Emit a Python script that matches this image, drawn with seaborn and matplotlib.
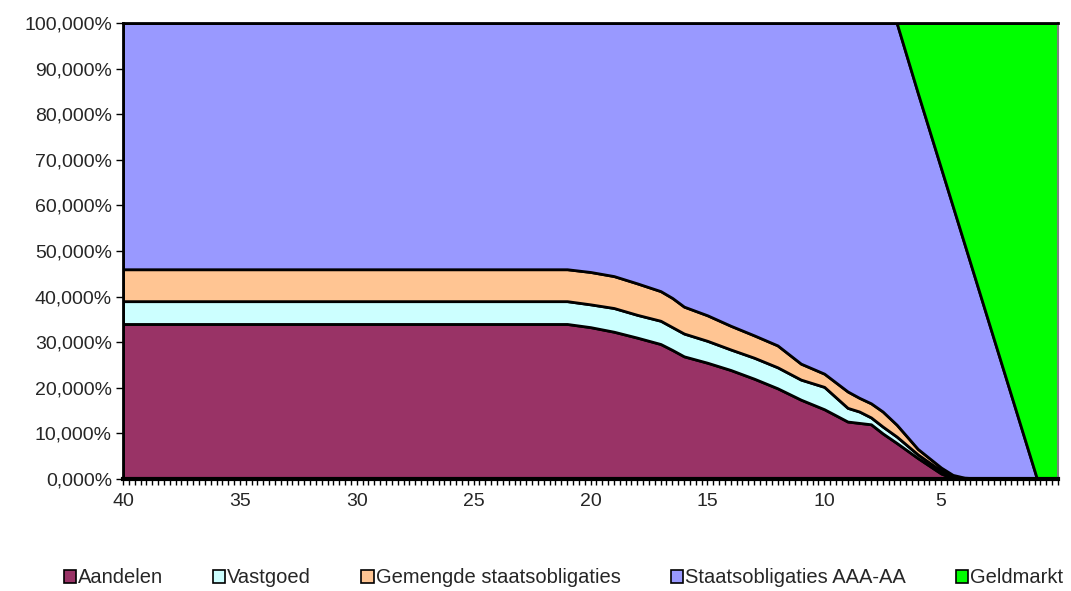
import numpy as np
import matplotlib.pyplot as plt
import matplotlib.ticker as mticker
from matplotlib.patches import Patch
import seaborn as sns

# years to go (x axis runs from 40 down to 0)
years = [40, 21, 20, 19, 18, 17, 16.5, 16, 15, 14, 13, 12, 11, 10, 9, 8.5, 8, 7.5, 6.9,
         6, 5, 4.5, 4, 3, 2, 1, 0.9, 0]

# allocation in %
aandelen = [34, 34, 33.3, 32.3, 31.0, 29.6, 28.3, 26.9, 25.5, 23.9, 22.0, 19.9, 17.4, 15.3,
            12.6, 12.3, 12.0, 10.0, 7.9, 4.6, 1.2, 0.2, 0, 0, 0, 0, 0, 0]
vastgoed = [5, 5, 5.0, 5.2, 5.0, 5.1, 5.0, 5.0, 4.8, 4.5, 4.6, 4.6, 4.4, 4.9,
            3.0, 2.5, 1.5, 1.5, 1.4, 0.8, 0.6, 0.3, 0.1, 0, 0, 0, 0, 0]
gemengd = [7, 7, 7.1, 7.0, 6.9, 6.5, 6.4, 5.9, 5.6, 5.2, 4.9, 4.8, 3.5, 2.9,
           3.6, 3.0, 3.1, 3.3, 2.6, 1.2, 0.7, 0.4, 0.2, 0, 0, 0, 0, 0]
geldmarkt = [0, 0, 0, 0, 0, 0, 0, 0, 0, 0, 0, 0, 0, 0,
             0, 0, 0, 0, 0, 15.3, 31.9, 40.2, 48.5, 65.1, 81.7, 98.3, 100, 100]
staats = [100 - a - v - g - m for a, v, g, m in zip(aandelen, vastgoed, gemengd, geldmarkt)]

labels = ["Aandelen", "Vastgoed", "Gemengde staatsobligaties", "Staatsobligaties AAA-AA", "Geldmarkt"]
colors = ["#993366", "#CCFFFF", "#FFC593", "#9999FF", "#00FF00"]

sns.set_style("white")
plt.rcParams['font.family'] = ['Liberation Sans', 'DejaVu Sans']

fig = plt.figure(figsize=(10.71, 5.91), dpi=100)
ax = fig.add_axes([123 / 1071, 112 / 591, 935 / 1071, 456 / 591])

ax.stackplot(years, aandelen, vastgoed, gemengd, staats, geldmarkt,
             colors=colors, edgecolor="black", linewidth=2)

ax.set_xlim(40, 0)
ax.set_ylim(0, 100)

ax.xaxis.set_major_locator(mticker.FixedLocator([40, 35, 30, 25, 20, 15, 10, 5]))
ax.xaxis.set_minor_locator(mticker.MultipleLocator(0.25))
ax.xaxis.set_major_formatter(mticker.FuncFormatter(lambda v, p: f"{v:.0f}"))
ax.yaxis.set_major_locator(mticker.MultipleLocator(10))
ax.yaxis.set_major_formatter(mticker.FuncFormatter(lambda v, p: f"{v:.3f}".replace(".", ",") + "%"))

ax.tick_params(axis="x", which="both", direction="out", length=4, width=1, color="black",
               bottom=True, labelsize=14, pad=6)
ax.tick_params(axis="y", which="major", direction="out", length=5, width=1, color="black",
               left=True, labelsize=14, pad=3)

for side in ["left", "bottom", "top"]:
    ax.spines[side].set_color("black")
    ax.spines[side].set_linewidth(2)
ax.spines["bottom"].set_linewidth(3)
ax.spines["right"].set_color("#808080")
ax.spines["right"].set_linewidth(1.5)

handles = [Patch(facecolor=c, edgecolor="black", linewidth=1.2) for c in colors]
fig.legend(handles, labels, loc="center", bbox_to_anchor=(0.526, 0.022), ncol=5,
           frameon=False, fontsize=14.5, handlelength=0.6, handleheight=0.6,
           handletextpad=0.1, columnspacing=2.5)

fig.savefig("out.png", dpi=100)
